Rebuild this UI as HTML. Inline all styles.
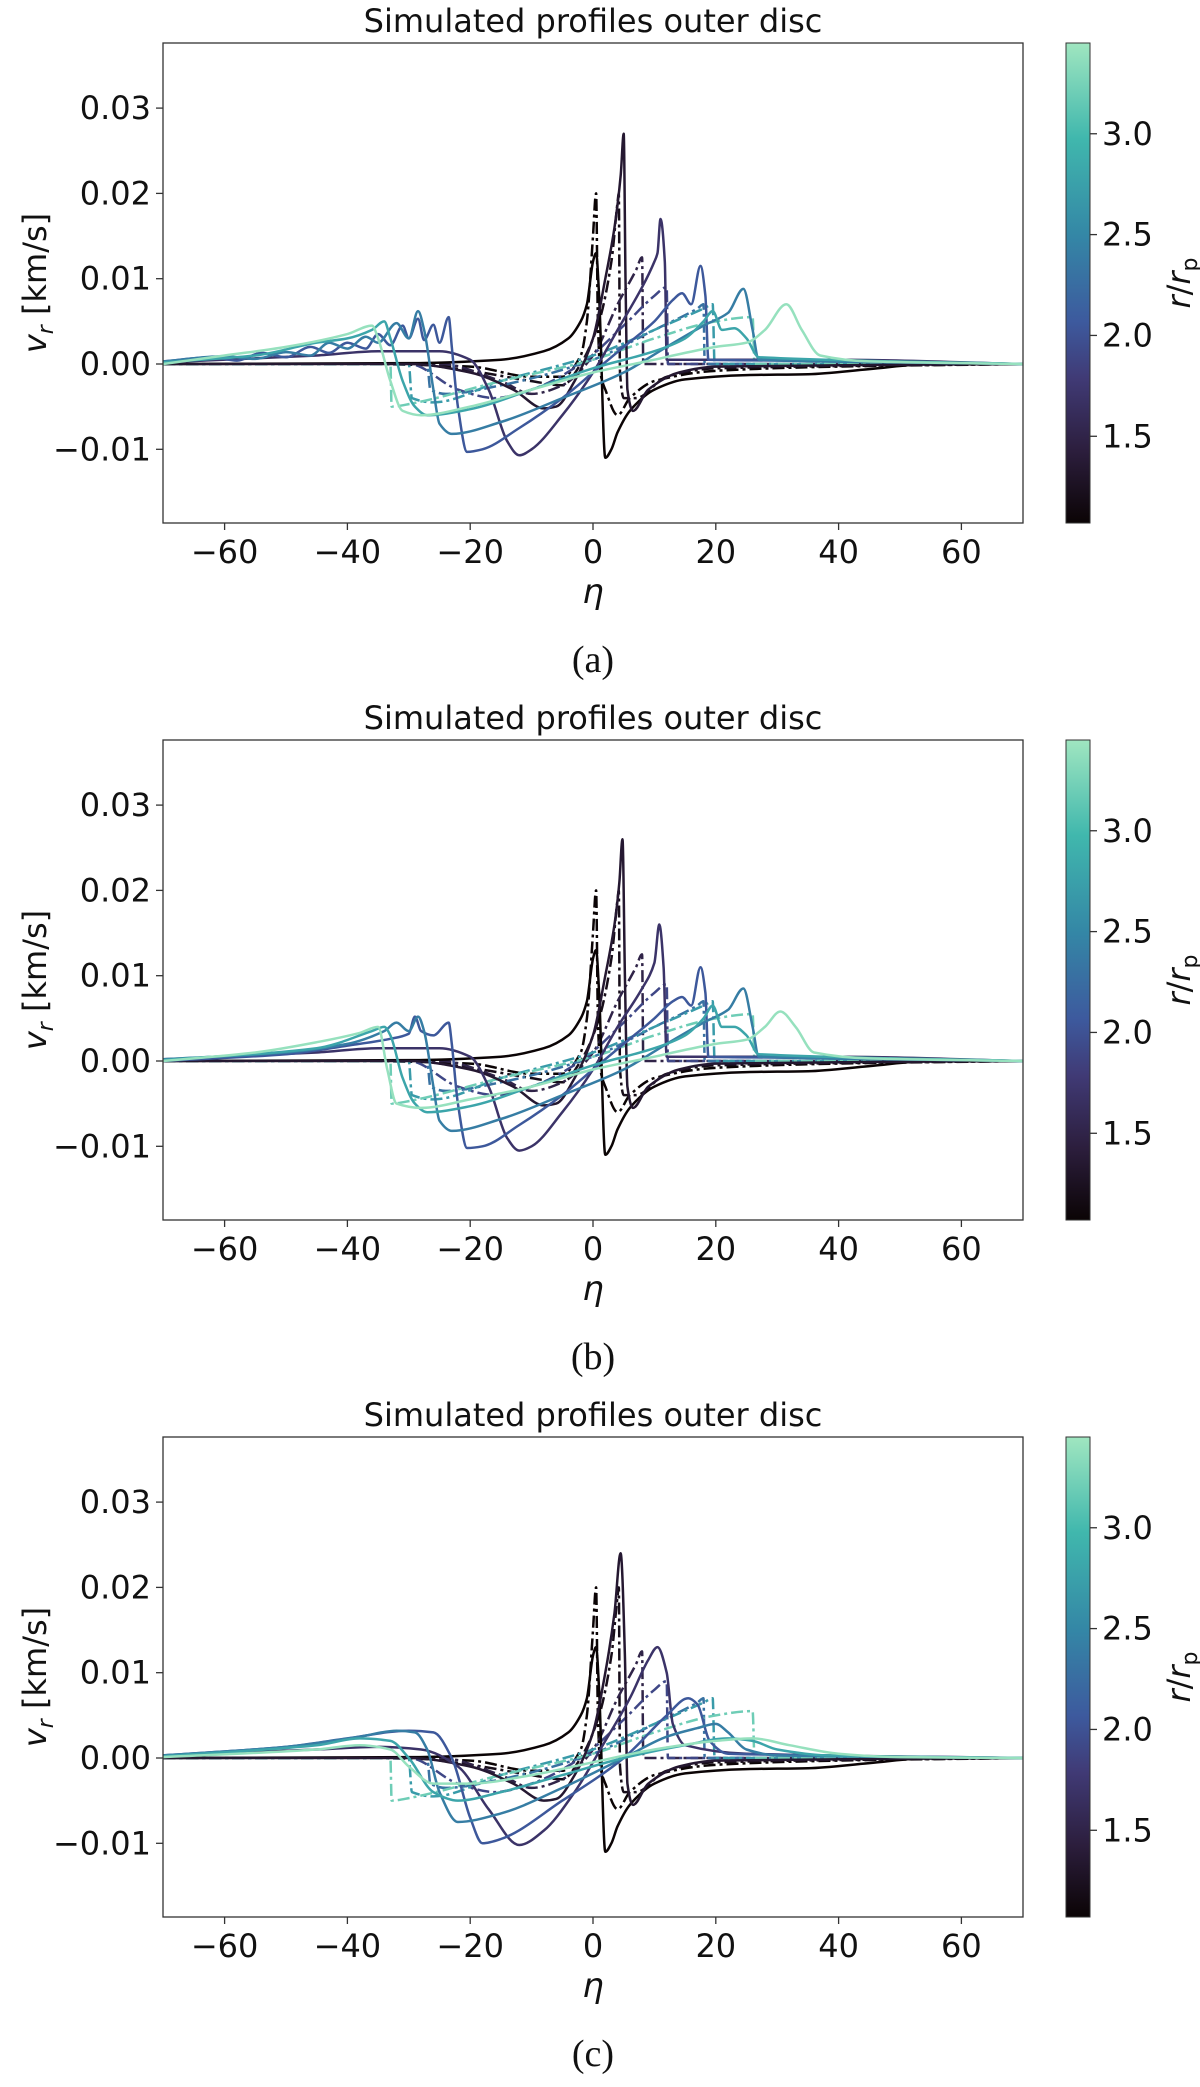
<!DOCTYPE html>
<html><head><meta charset="utf-8"><style>
body{margin:0;background:#fff;width:1200px;height:2082px;overflow:hidden}
svg text{font-family:"DejaVu Sans","Liberation Sans",sans-serif}
</style></head><body>
<svg id="fig" width="1200" height="2082" xmlns="http://www.w3.org/2000/svg">
<defs><linearGradient id="mako" x1="0" y1="1" x2="0" y2="0">
<stop offset="0" stop-color="#0b0405"/><stop offset="0.15" stop-color="#2c1e3d"/><stop offset="0.3" stop-color="#403a75"/>
<stop offset="0.42" stop-color="#3d5a9e"/><stop offset="0.6" stop-color="#3487a6"/><stop offset="0.8" stop-color="#40b7ad"/>
<stop offset="1" stop-color="#a0e6c0"/></linearGradient></defs>
</svg>
<script>
const xTicks=[-60,-40,-20,0,20,40,60];
const yTicks=[-0.01,0,0.01,0.02,0.03];
const yTickLabels=["\u22120.01","0.00","0.01","0.02","0.03"];
const cbTicks=[1.5,2.0,2.5,3.0];
const cbRange=[1.07,3.45];
const captions=["(a)","(b)","(c)"];
const solidR=[1.07,1.35,1.7,2.05,2.4,2.8,3.4];
const dashR=[1.07,1.2,1.5,1.9,2.3,2.7,3.2];
// values in units of 1e-3 km/s : [eta, v]
const solidA=[
[[-70,0],[-30,0.1],[-15,0.5],[-8,1.5],[-4,3],[-2,5],[-1,7],[0,12],[0.5,13],[1,8],[2,-11],[3,-10],[4,-8],[6,-5.5],[10,-3],[15,-1.8],[25,-1.3],[35,-1.2],[45,-0.6],[55,0],[70,0]],
[[-70,0],[-30,0],[-20,-1],[-13,-3],[-8,-5.2],[-6,-5],[-3,-2],[0,3],[2,10],[3.5,16],[4.5,22],[5,27],[5.3,10],[5.6,-3],[6.5,-5.5],[9,-3],[14,-1],[20,-0.3],[70,0]],
[[-70,0.2],[-45,1],[-35,1.5],[-25,1.5],[-20,0.5],[-17,-3],[-14,-9],[-12,-10.7],[-10,-10],[-5,-6],[0,-1],[4,4],[8,9],[10,12],[10.5,13],[11,17],[11.7,12],[12,0.5],[20,0.5],[40,0.5],[70,0]],
[[-70,0.3],[-62,0.8],[-58,0.4],[-54,1.3],[-50,0.8],[-46,2],[-43,1.3],[-40,2.5],[-37,1.8],[-35,3.5],[-33,2.2],[-31,4.5],[-30,3],[-28.5,5.3],[-27.5,2.8],[-26,4.6],[-25,2.5],[-23.5,5.5],[-23,2],[-22,-5],[-20.5,-10.3],[-18,-10],[-12,-7.5],[-5,-4],[0,-1],[5,2],[10,5],[13,7.5],[14.5,8.3],[16,7],[17.5,11.5],[18.3,8],[18.8,0.5],[30,0.4],[70,0]],
[[-70,0.3],[-60,0.9],[-55,0.6],[-50,1.4],[-46,1],[-43,2.5],[-40,1.8],[-37,3.2],[-35,2.5],[-32,4.8],[-30,3],[-28.5,6.2],[-27.5,4],[-26,-3],[-25,-7],[-23,-8.2],[-15,-6.8],[-5,-4],[5,-1],[12,2],[18,4.5],[22,6],[24.5,8.8],[26,4],[27,0.5],[70,0]],
[[-70,0.2],[-55,1],[-45,2.5],[-40,3],[-36,4],[-34,5],[-33,3],[-31,-2],[-29,-5],[-27,-6],[-20,-5.3],[-10,-3],[0,-0.5],[10,1.5],[15,3],[18,5],[19.5,6.2],[21,4],[23,4.2],[25,3],[27,0.8],[70,0]],
[[-70,0],[-60,1],[-50,2],[-40,3.5],[-36,4.5],[-35,3],[-33,-2],[-31,-5.5],[-28,-6],[-20,-5],[-10,-3],[0,-1],[10,0.5],[15,1.3],[20,2],[25,2.5],[28,4],[31.5,7],[34,4],[37,1],[45,0.3],[70,0]]];
const solidB=[
solidA[0],
[[-70,0],[-30,0],[-20,-1],[-13,-3],[-8,-5.2],[-6,-5],[-3,-2],[0,3],[2,10],[3.5,16],[4.3,21],[4.8,26],[5.2,10],[5.6,-3],[6.5,-5.5],[9,-3],[14,-1],[20,-0.3],[70,0]],
[[-70,0.2],[-45,1],[-35,1.5],[-25,1.5],[-20,0.5],[-17,-3],[-14,-9],[-12,-10.5],[-10,-10],[-5,-6],[0,-1],[4,4],[8,8.5],[10,11.5],[10.8,16],[11.5,11],[12,0.5],[20,0.5],[40,0.5],[70,0]],
[[-70,0],[-50,0.8],[-40,1.8],[-33,2.6],[-30,3.2],[-29,5.2],[-28,3.5],[-26,3],[-23.5,4.5],[-23,2],[-22,-5],[-20.5,-10.2],[-18,-10],[-12,-7.5],[-5,-4],[0,-1],[5,2],[10,5],[13,7],[14.5,7.5],[16,6.5],[17.5,11],[18.3,8],[18.8,0.5],[30,0.4],[70,0]],
[[-70,0.2],[-50,1],[-40,2],[-34,3.5],[-32,4.5],[-30,3.5],[-28.5,5.2],[-27.5,3.5],[-26,-3],[-25,-7],[-23,-8.2],[-15,-6.8],[-5,-4],[5,-1],[12,2],[18,4.5],[22,6],[24.5,8.5],[26,4],[27,0.5],[70,0]],
[[-70,0.1],[-45,1.5],[-36,3.5],[-34,4],[-33,3],[-31,-2],[-29,-5],[-27,-6],[-20,-5.3],[-10,-3],[0,-0.5],[10,1.5],[15,3],[18,5],[19.5,6.5],[21,4],[23,4],[25,3],[27,0.8],[70,0]],
[[-70,0],[-55,1],[-45,2.2],[-38,3.3],[-35,4],[-33.5,-1],[-32,-5],[-28,-5.5],[-20,-4.5],[-10,-3],[0,-1],[10,0.5],[15,1.3],[20,2],[25,2.5],[28,4],[30.5,5.8],[33,4],[36,1],[45,0.3],[70,0]]];
const solidC=[
solidA[0],
[[-70,0],[-30,0],[-20,-1],[-13,-3],[-8,-5],[-6,-4.8],[-3,-2],[0,3],[2,10],[3.5,17],[4.5,24],[5.2,12],[5.6,-3],[6.5,-5.5],[9,-3],[14,-1],[20,-0.3],[70,0]],
[[-70,0.3],[-45,1],[-35,1.3],[-28,1],[-22,-1],[-17,-6],[-12,-10.2],[-8,-8.5],[-3,-4],[2,2],[6,7],[9,11.5],[10.5,13],[12,10],[13,4],[15,1.5],[25,0.5],[70,0]],
[[-70,0.3],[-50,1.3],[-40,2.3],[-30,3.2],[-26,3],[-23,0],[-20,-7],[-18,-10],[-15,-9.5],[-5,-5],[5,0],[12,5],[15.5,7],[17,6.3],[19,2],[22,0.5],[70,0]],
[[-70,0.3],[-50,1.3],[-38,2.5],[-32,3.2],[-29,3],[-27,1],[-25,-4],[-22,-7.5],[-15,-6.5],[-5,-3.5],[5,0],[12,2.5],[17,3.5],[20,4],[22,3],[25,1],[30,0.3],[70,0]],
[[-70,0.2],[-45,1.5],[-38,2.3],[-33,2],[-30,0],[-26,-4],[-22,-5],[-15,-4],[-5,-2],[5,0],[15,1.5],[22,2.3],[26,2],[30,1],[38,0.3],[70,0]],
[[-70,0.1],[-45,1],[-38,1.5],[-33,1],[-30,-1],[-26,-3],[-20,-3],[-10,-2],[0,-0.5],[10,1],[20,2],[26,2.3],[32,1.5],[40,0.5],[50,0.1],[70,0]]];
const dashAll=[
[[-70,0],[-40,0],[-20,-0.3],[-10,-1.5],[-5,-1.5],[-2,1],[-1,5],[0,15],[0.5,20],[0.8,5],[1.2,-1],[2,-3],[4,-6],[6,-4],[10,-2],[20,-0.8],[40,-0.3],[70,0]],
[[-70,0],[-30,0],[-20,-0.8],[-10,-2],[-5,-2.5],[-2,0],[1,5],[3,12],[4,19],[4.2,20],[4.4,-1],[5,-4],[7,-4],[12,-1.5],[20,-0.5],[70,0]],
[[-70,0],[-25,0],[-15,-2],[-10,-3.5],[-5,-2.5],[0,1],[4,7],[7,11],[8,12.5],[8.2,0],[20,0],[70,0]],
[[-70,0],[-30,0],[-22,-3],[-16,-4],[-10,-3],[-2,0],[5,4.5],[10,8],[12,9],[12.2,0],[70,0]],
[[-70,0],[-27,0],[-26.5,-3],[-24,-3.5],[-15,-2.5],[0,0.5],[10,4],[17,6.5],[18,7],[18.2,0],[70,0]],
[[-70,0],[-30,0],[-29.5,-4],[-26,-4.5],[-15,-2],[0,1],[10,4],[18,6.5],[19.5,7],[19.8,0],[70,0]],
[[-70,0],[-33,0],[-32.8,-5],[-30,-4.7],[-15,-2],[0,0.5],[10,3],[20,5],[26,5.5],[26.3,0],[70,0]]];
const panels=[solidA,solidB,solidC];

const NS="http://www.w3.org/2000/svg";
const svg=document.getElementById('fig');
const L=163,R=1023,T=43,B=523,X0=593,XS=6.14,Y0=364,YS=8530,DY=697;
const xs=e=>X0+e*XS;
const ys=v=>Y0-v*YS;
const stops=[[0,[11,4,5]],[0.15,[44,30,61]],[0.3,[64,58,117]],[0.42,[61,90,158]],[0.6,[52,135,166]],[0.8,[64,183,173]],[1,[160,230,192]]];
function cmap(r){let f=(r-cbRange[0])/(cbRange[1]-cbRange[0]);f=Math.max(0,Math.min(1,f));
for(let i=1;i<stops.length;i++){if(f<=stops[i][0]){const a=stops[i-1],b=stops[i],t=(f-a[0])/(b[0]-a[0]);
return 'rgb('+a[1].map((c,k)=>Math.round(c+(b[1][k]-c)*t)).join(',')+')';}}return 'rgb(160,230,192)';}
function mk(tag,attrs,parent){const el=document.createElementNS(NS,tag);for(const k in attrs)el.setAttribute(k,attrs[k]);parent.appendChild(el);return el;}
function txt(s,attrs,parent){const t=mk('text',attrs,parent);t.textContent=s;return t;}
// monotone cubic path through data points (Fritsch-Carlson)
function pathD(pts){
 const P=pts.map(q=>[xs(q[0]),ys(q[1]*1e-3)]);const n=P.length;
 const d=[],m=[];
 for(let i=0;i<n-1;i++)d.push((P[i+1][1]-P[i][1])/(P[i+1][0]-P[i][0]));
 m[0]=d[0];m[n-1]=d[n-2];
 for(let i=1;i<n-1;i++){m[i]=(d[i-1]*d[i]<=0)?0:2/(1/d[i-1]+1/d[i]);}
 let s='M'+P[0][0].toFixed(1)+','+P[0][1].toFixed(1);
 for(let i=0;i<n-1;i++){const h=(P[i+1][0]-P[i][0])/3;
  s+='C'+(P[i][0]+h).toFixed(1)+','+(P[i][1]+m[i]*h).toFixed(1)+' '+(P[i+1][0]-h).toFixed(1)+','+(P[i+1][1]-m[i+1]*h).toFixed(1)+' '+P[i+1][0].toFixed(1)+','+P[i+1][1].toFixed(1);}
 return s;}

panels.forEach((solid,p)=>{
 const g=mk('g',{transform:'translate(0,'+(p*DY)+')'},svg);
 
 
 const clipId='clip'+p;
 const cp=mk('clipPath',{id:clipId},g);mk('rect',{x:L,y:T,width:R-L,height:B-T},cp);
 const lines=mk('g',{'clip-path':'url(#'+clipId+')'},g);
 
 
 dashAll.forEach((pts,i)=>{
  const pl=mk('path',{d:pathD(pts),fill:'none',stroke:cmap(dashR[i]),'stroke-width':2.5,'stroke-dasharray':'12,4,3,4','stroke-linejoin':'round'},lines);
  
  
 });
 solid.forEach((pts,i)=>{
  const pl=mk('path',{d:pathD(pts),fill:'none',stroke:cmap(solidR[i]),'stroke-width':2.5,'stroke-linejoin':'round'},lines);
  
  
 });
 const fr=mk('rect',{x:L,y:T,width:R-L,height:B-T,fill:'none',stroke:'#333','stroke-width':1.3},g);
 
 
 xTicks.forEach(t=>{const x=xs(t);mk('line',{x1:x,x2:x,y1:B,y2:B+7,stroke:'#333','stroke-width':1.3},g);
  const tl=txt(t<0?'\u2212'+(-t):String(t),{x:x,y:B+40,'font-size':32,'text-anchor':'middle',fill:'#111'},g);
  
  });
 yTicks.forEach((t,i)=>{const y=ys(t);mk('line',{x1:L-7,x2:L,y1:y,y2:y,stroke:'#333','stroke-width':1.3},g);
  const tl=txt(yTickLabels[i],{x:L-12,y:y+11,'font-size':32,'text-anchor':'end',fill:'#111'},g);
  
  });
 const ti=txt('Simulated profiles outer disc',{x:593,y:32,'font-size':32,'text-anchor':'middle',fill:'#111'},g);
 
 
 const xl=txt('\u03b7',{x:593,y:603,'font-size':34,'font-style':'italic','text-anchor':'middle',fill:'#111'},g);
 
 
 const yl=mk('text',{transform:'translate(46,283) rotate(-90)','font-size':32,'text-anchor':'middle',fill:'#111'},g);
 yl.innerHTML='<tspan font-style="italic">v</tspan><tspan font-style="italic" font-size="22" dy="7">r</tspan><tspan dy="-7"> [km/s]</tspan>';
 
 
 const cb=mk('rect',{x:1066,y:T,width:24,height:B-T,fill:'url(#mako)',stroke:'#333','stroke-width':1},g);
 
 
 cbTicks.forEach(t=>{const y=B-(t-cbRange[0])/(cbRange[1]-cbRange[0])*(B-T);
  mk('line',{x1:1090,x2:1097,y1:y,y2:y,stroke:'#333','stroke-width':1.3},g);
  const tl=txt(t.toFixed(1),{x:1102,y:y+11,'font-size':32,fill:'#111'},g);
  
  });
 const cl=mk('text',{transform:'translate(1190,283) rotate(-90)','font-size':32,'text-anchor':'middle',fill:'#111'},g);
 cl.innerHTML='<tspan font-style="italic">r</tspan>/<tspan font-style="italic">r</tspan><tspan font-size="22" dy="7">p</tspan>';
 
 
 const cap=txt(captions[p],{x:593,y:672,'font-size':38,'text-anchor':'middle',fill:'#111',style:'font-family:"Liberation Serif",serif'},g);
 
 
});
</script>
</body></html>
